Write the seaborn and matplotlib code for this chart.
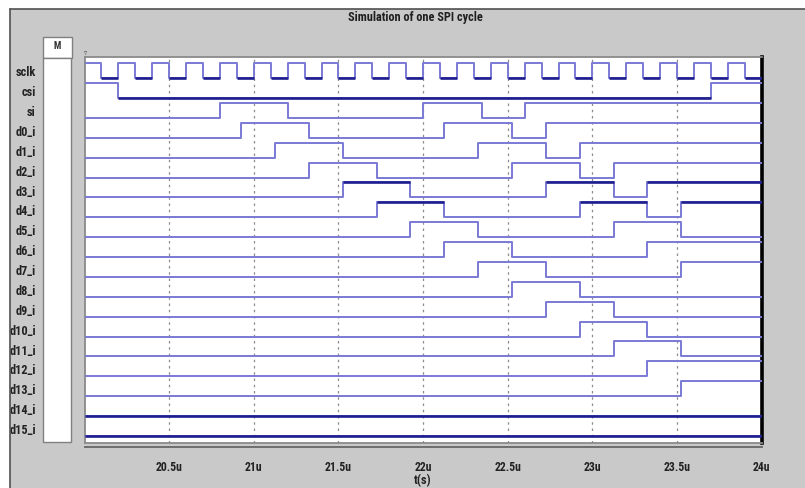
import numpy as np
import pandas as pd
import matplotlib
matplotlib.use("Agg")
import matplotlib.pyplot as plt
import seaborn as sns
from matplotlib.patches import Rectangle
from matplotlib import font_manager

# ---------------- data ----------------
T_START, T_END = 20.0, 24.0
signals = ["sclk", "csi", "si"] + [f"d{k}_i" for k in range(16)]

# initial logic level of each signal at t = 20u
initial_levels = [1, 1, 0] + [0] * 16

# toggle times (in microseconds)
sclk_edges = [20.1, 20.2, 20.3, 20.4, 20.5, 20.6, 20.7, 20.8, 20.9, 21.0,
              21.1, 21.2, 21.3, 21.4, 21.5, 21.6, 21.7, 21.8, 21.9, 22.0,
              22.1, 22.2, 22.3, 22.4, 22.5, 22.6, 22.7, 22.8, 22.9, 23.0,
              23.1, 23.2, 23.3, 23.4, 23.5, 23.6, 23.7, 23.8, 23.9]
csi_edges = [20.2, 23.7]
si_edges = [20.8, 21.2, 22.0, 22.35, 22.6]
d0_edges = [20.925, 21.325, 22.125, 22.525, 22.725]
d1_edges = [21.125, 21.525, 22.325, 22.725, 22.925]
d2_edges = [21.325, 21.725, 22.525, 22.925, 23.125]
d3_edges = [21.525, 21.925, 22.725, 23.125, 23.325]
d4_edges = [21.725, 22.125, 22.925, 23.325, 23.525]
d5_edges = [21.925, 22.325, 23.125, 23.525]
d6_edges = [22.125, 22.525, 23.325]
d7_edges = [22.325, 22.725, 23.525]
d8_edges = [22.525, 22.925]
d9_edges = [22.725, 23.125]
d10_edges = [22.925, 23.325]
d11_edges = [23.125, 23.525]
d12_edges = [23.325]
d13_edges = [23.525]
d14_edges = []
d15_edges = []

all_edges = [sclk_edges, csi_edges, si_edges, d0_edges, d1_edges, d2_edges,
             d3_edges, d4_edges, d5_edges, d6_edges, d7_edges, d8_edges,
             d9_edges, d10_edges, d11_edges, d12_edges, d13_edges,
             d14_edges, d15_edges]

x_ticks = [20.5, 21.0, 21.5, 22.0, 22.5, 23.0, 23.5, 24.0]
x_tick_labels = ["20.5u", "21u", "21.5u", "22u", "22.5u", "23u", "23.5u", "24u"]

# ---------------- styling ----------------
HIGH = 0.755          # height of logic '1' relative to row spacing
LIGHT = "#7a7ad6"
DARK = "#1e1e8e"
GREY_BG = "#c9c9c9"
# level drawn darker (rendering artefact in the original)
dark_level = {"sclk": 0, "csi": 0, "d3_i": 1, "d4_i": 1, "d14_i": 0, "d15_i": 0}

sns.set_style("white")
avail = {f.name for f in font_manager.fontManager.ttflist}
narrow = "DejaVu Sans"
for cand in ["Liberation Sans Narrow", "DejaVu Sans Condensed", "Roboto Condensed",
             "Open Sans Condensed", "Noto Sans Condensed"]:
    if cand in avail:
        narrow = cand
        break
plt.rcParams["font.family"] = [narrow, "DejaVu Sans"]
plt.rcParams["font.stretch"] = "condensed"

# ---------------- build long table ----------------
rows = []
n = len(signals)
for i, (name, v0, edges) in enumerate(zip(signals, initial_levels, all_edges)):
    base = (n - 1) - i
    times = [T_START] + list(edges) + [T_END]
    vals = [(v0 + k) % 2 for k in range(len(edges) + 1)]
    vals = vals + [vals[-1]]
    for t, v in zip(times, vals):
        rows.append({"signal": name, "t": t, "y": base + HIGH * v, "level": v,
                     "base": base})
df = pd.DataFrame(rows)

# ---------------- figure ----------------
W, H = 805, 488
fig = plt.figure(figsize=(W / 100, H / 100), dpi=100)
fig.patch.set_facecolor("white")


def fx(px):
    return px / W


def fy(py):
    return 1 - py / H


# grey panel with dark top/left border
fig.add_artist(Rectangle((fx(10), 0), 1 - fx(10), fy(9), transform=fig.transFigure,
                         facecolor=GREY_BG, edgecolor="none", zorder=-5))
fig.add_artist(plt.Line2D([fx(10), 1], [fy(9), fy(9)], transform=fig.transFigure,
                          color="#505050", lw=1.2))
fig.add_artist(plt.Line2D([fx(10), fx(10)], [0, fy(9)], transform=fig.transFigure,
                          color="#505050", lw=1.2))

# "M" header box and white column
fig.add_artist(Rectangle((fx(42.5), fy(58)), fx(29), fy(37) - fy(58),
                         transform=fig.transFigure, facecolor="white",
                         edgecolor="#808080", lw=1, zorder=1))
fig.add_artist(Rectangle((fx(43), fy(442)), fx(28), fy(58) - fy(442),
                         transform=fig.transFigure, facecolor="white",
                         edgecolor="#808080", lw=1, zorder=1))
fig.text(fx(57), fy(46), "M", ha="center", va="center", fontsize=7,
         fontweight="bold", color="#333333")

# title
fig.text(fx(415), fy(18), "Simulation of one SPI cycle", ha="center", va="center",
         fontsize=8.8, fontweight="bold", color="#202020")

L, R, T, B = 84.5, 761.7, 57, 442.7
rect = [fx(L), fy(B), fx(R) - fx(L), fy(T) - fy(B)]
ax = fig.add_axes(rect)
ax.set_facecolor("white")

sns.lineplot(data=df, x="t", y="y", hue="signal", palette=[LIGHT] * n,
             drawstyle="steps-post", estimator=None, sort=False, legend=False,
             linewidth=1.4, ax=ax, zorder=3)

# darker segments
for name, lev in dark_level.items():
    sub = df[df["signal"] == name].reset_index(drop=True)
    for k in range(len(sub) - 1):
        if sub.loc[k, "level"] == lev:
            ax.hlines(sub.loc[k, "y"], sub.loc[k, "t"], sub.loc[k + 1, "t"],
                      color=DARK, lw=1.9, zorder=4)

ax.set_xlim(T_START, T_END)
ax.set_ylim(-0.34, (n - 1) + 1.07)
ax.set_xticks(x_ticks)
ax.tick_params(axis="x", length=0, labelbottom=False)
ax.grid(axis="x", color="#8c8c8c", linestyle=(0, (2, 3)), lw=0.9)
ax.grid(axis="y", visible=False)
ax.set_xlabel("")
ax.set_ylabel("")
ax.set_yticks([(n - 1) - i + 0.35 for i in range(n)])
ax.set_yticklabels(signals, fontsize=8.8, fontweight="bold", color="#222222")
ax.tick_params(axis="y", length=0, pad=35)

for s in ["left", "top", "bottom"]:
    ax.spines[s].set_color("#8a8a8a")
    ax.spines[s].set_linewidth(1.3)
ax.spines["right"].set_color("black")
ax.spines["right"].set_linewidth(2.6)

# small cursor marker at top-left
fig.text(fx(L + 1), fy(53), "\u25bf", ha="center", va="center", fontsize=5,
         color="#444444", family="DejaVu Sans")

# separate time axis below
ax2 = fig.add_axes(rect)
ax2.patch.set_visible(False)
ax2.set_xlim(T_START, T_END)
ax2.set_ylim(0, 1)
for s in ["left", "top", "right"]:
    ax2.spines[s].set_visible(False)
ax2.spines["bottom"].set_position(("outward", 3))
ax2.spines["bottom"].set_color("#6e6e6e")
ax2.spines["bottom"].set_linewidth(1.4)
ax2.set_yticks([])
ax2.set_xticks(x_ticks)
ax2.set_xticklabels(x_tick_labels, fontsize=8.5, fontweight="bold", color="#222222")
ax2.tick_params(axis="x", length=4, width=1, color="#555555", direction="out", pad=6)
ax2.set_xlabel("t(s)", fontsize=9, fontweight="bold", color="#222222", labelpad=0)

fig.savefig("out.png", dpi=100, facecolor=fig.get_facecolor())
